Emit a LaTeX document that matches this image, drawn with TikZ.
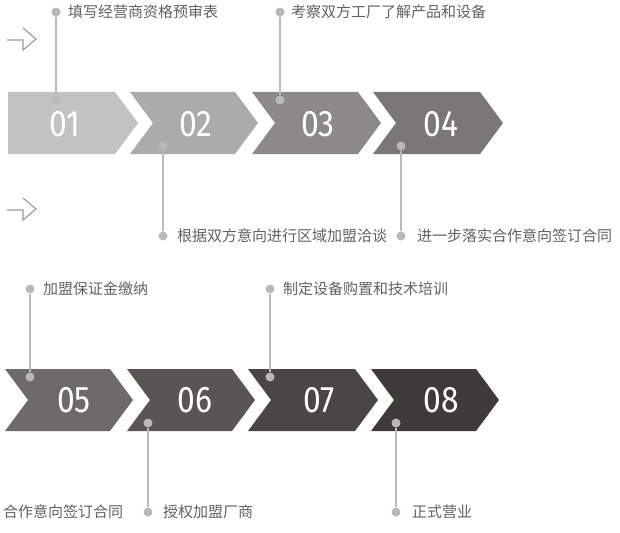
\documentclass[tikz,border=0pt]{standalone}
\usepackage{fontspec}
\newfontfamily\cjk{Noto Sans CJK SC}
\newfontfamily\digitfont[FakeStretch=0.86]{Fira Sans}
\definecolor{cA}{HTML}{C2C2C2}
\definecolor{cB}{HTML}{ABABAB}
\definecolor{cC}{HTML}{8C8A88}
\definecolor{cD}{HTML}{7A7876}
\definecolor{cE}{HTML}{6D6B69}
\definecolor{cF}{HTML}{595553}
\definecolor{cG}{HTML}{4A4644}
\definecolor{cH}{HTML}{3E3A38}
\definecolor{dotc}{HTML}{B9B9B9}
\definecolor{txtc}{HTML}{616161}
\definecolor{iconc}{HTML}{9A9A9A}
\begin{document}
\begin{tikzpicture}[x=1pt,y=-1pt,
  num/.style={text=white,font=\digitfont\fontsize{37}{37}\selectfont,inner sep=0pt},
  dot/.style={circle,fill=dotc,inner sep=0pt,minimum size=9pt},
  lead/.style={draw=dotc,line width=1.1pt},
  lbl/.style={anchor=base west,text=txtc,font=\cjk\fontsize{15}{15}\selectfont,inner sep=0pt},
  icon/.style={draw=iconc,line width=1.1pt}]
\useasboundingbox (0,0) rectangle (620,532);
% row 1 chevrons
\fill[cA] (8,92) -- (115,92) -- (138,123) -- (115,154) -- (8,154) -- cycle;
\fill[cB] (130,92) -- (235,92) -- (258,123) -- (235,154) -- (130,154) -- (153,123) -- cycle;
\fill[cC] (252,92) -- (358,92) -- (381,123) -- (358,154) -- (252,154) -- (275,123) -- cycle;
\fill[cD] (373,92) -- (480,92) -- (503,123) -- (480,154) -- (373,154) -- (396,123) -- cycle;
% row 2 chevrons
\fill[cE] (5,369) -- (110,369) -- (133,400) -- (110,431) -- (5,431) -- (28,400) -- cycle;
\fill[cF] (127,369) -- (232,369) -- (255,400) -- (232,431) -- (127,431) -- (150,400) -- cycle;
\fill[cG] (248,369) -- (355,369) -- (378,400) -- (355,431) -- (248,431) -- (271,400) -- cycle;
\fill[cH] (371,369) -- (476,369) -- (499,400) -- (476,431) -- (371,431) -- (394,400) -- cycle;
% numbers
\node[num] (n1) at (65,124.5) {01};
\node[num] (n2) at (196,124.5) {02};
\node[num] (n3) at (318,124.5) {03};
\node[num] (n4) at (441,124.5) {04};
\node[num] (n5) at (74,400) {05};
\node[num] (n6) at (195,400) {06};
\node[num] (n7) at (319,400) {07};
\node[num] (n8) at (441,400) {08};
% icons
\draw[icon] (7,40) -- (23,40) -- (23,50) -- (36,39) -- (23,28);
\draw[icon] (7,210) -- (23,210) -- (23,220) -- (36,209) -- (23,198);
% callouts row 1
\node[dot] (a1) at (56,100) {};
\node[dot] (b1) at (56,12) {};
\draw[lead] (a1) -- (b1);
\node[lbl] (t1) at (68,17.5) {填写经营商资格预审表};
\node[dot] (a3) at (280,100) {};
\node[dot] (b3) at (280,12) {};
\draw[lead] (a3) -- (b3);
\node[lbl] (t3) at (291,17.5) {考察双方工厂了解产品和设备};
\node[dot] (a2) at (163,146) {};
\node[dot] (b2) at (163,236) {};
\draw[lead] (a2) -- (b2);
\node[lbl] (t2) at (177,241.5) {根据双方意向进行区域加盟洽谈};
\node[dot] (a4) at (401,146) {};
\node[dot] (b4) at (401,236) {};
\draw[lead] (a4) -- (b4);
\node[lbl] (t4) at (417,241.5) {进一步落实合作意向签订合同};
% callouts row 2
\node[dot] (a5) at (30,377) {};
\node[dot] (b5) at (30,289) {};
\draw[lead] (a5) -- (b5);
\node[lbl] (t5) at (43,294.5) {加盟保证金缴纳};
\node[dot] (a7) at (270,377) {};
\node[dot] (b7) at (270,289) {};
\draw[lead] (a7) -- (b7);
\node[lbl] (t7) at (283,294.5) {制定设备购置和技术培训};
\node[dot] (a6) at (148,423) {};
\node[dot] (b6) at (148,512) {};
\draw[lead] (a6) -- (b6);
\node[lbl] (t6) at (163,517.5) {授权加盟厂商};
\node[dot] (a8) at (396,423) {};
\node[dot] (b8) at (396,512) {};
\draw[lead] (a8) -- (b8);
\node[lbl] (t8) at (412,517.5) {正式营业};
\node[lbl] (t9) at (3,517.5) {合作意向签订合同};
\end{tikzpicture}
\end{document}
